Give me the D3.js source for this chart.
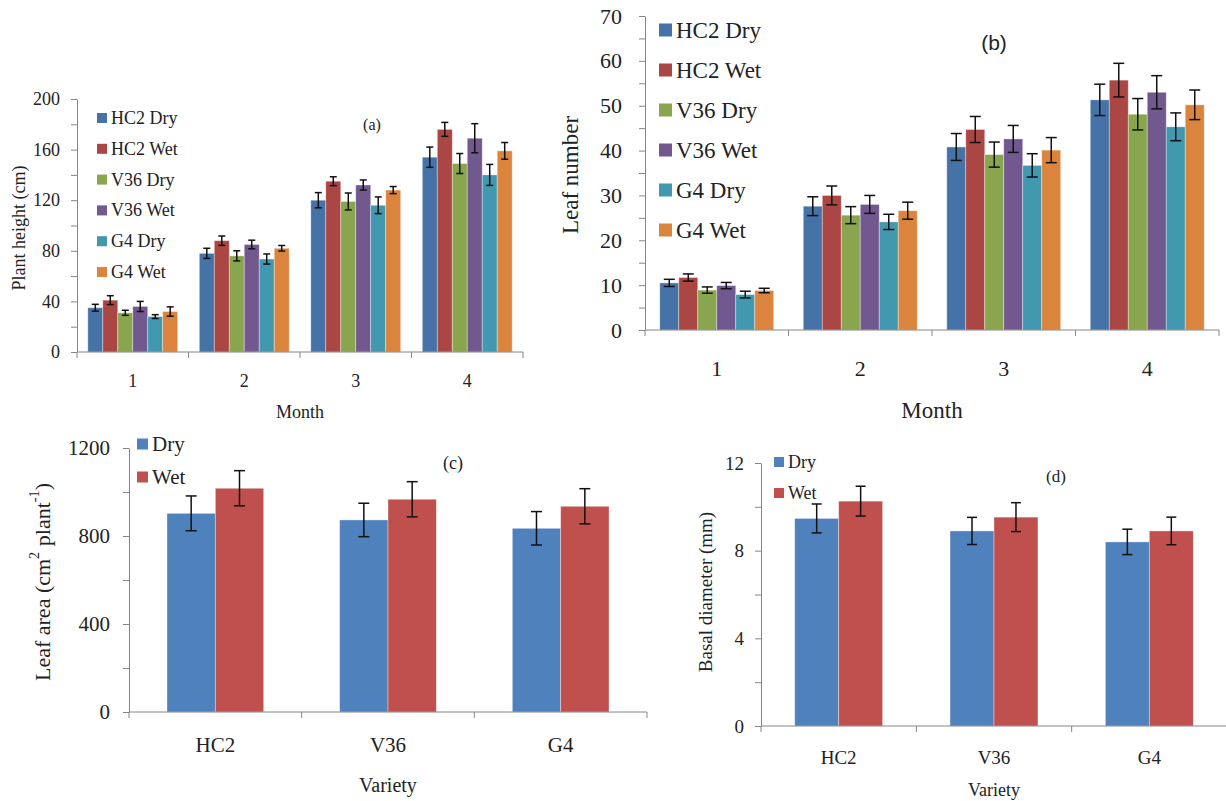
<!DOCTYPE html>
<html>
<head>
<meta charset="utf-8">
<script src="https://cdn.jsdelivr.net/npm/d3@7"></script>
<style>
  body { margin: 0; background: #fff; }
  svg { display: block; font-family: "Liberation Serif", "Times New Roman", serif; }
  .axis path, .axis line { stroke: #868686; }
  .axis text { fill: #222; font-family: "Liberation Serif", serif; }
</style>
</head>
<body>
<svg id="chart" width="1226" height="801"></svg>
<script>
// ---- data ----
var months = ["1", "2", "3", "4"];
var series6 = ["HC2 Dry", "HC2 Wet", "V36 Dry", "V36 Wet", "G4 Dry", "G4 Wet"];
var colors6 = ["#4572a7", "#aa4643", "#89a54e", "#71588f", "#4198af", "#db843d"];

// plant height (cm), rows = month
var heightMean = [[35, 41, 31, 36, 28, 32], [78, 88, 76, 85, 73.5, 82], [120, 135, 119, 132, 116, 128], [154, 176, 149, 169, 140, 159]];
var heightErr = [[2.7, 3.5, 2, 4, 1.5, 3.7], [4, 3.7, 4, 3.4, 4, 2.2], [6, 3.5, 6.7, 4, 6.6, 2.8], [8, 5.5, 7.9, 11.5, 8.3, 6.6]];

// leaf number
var leafMean = [[10.5, 11.7, 8.9, 9.9, 7.9, 8.8], [27.6, 30, 25.6, 28, 24.1, 26.6], [40.8, 44.7, 39.1, 42.6, 36.7, 40.1], [51.3, 55.7, 48.1, 53, 45.3, 50.2]];
var leafErr = [[0.8, 0.8, 0.7, 0.7, 0.75, 0.5], [2.1, 2.1, 1.9, 2, 1.7, 1.9], [3, 2.9, 2.8, 3, 2.6, 2.8], [3.5, 3.75, 3.5, 3.7, 3.1, 3.3]];

var varieties = ["HC2", "V36", "G4"];
var treatments = ["Dry", "Wet"];
var colors2 = ["#4f81bd", "#c0504d"];

// leaf area (cm2 plant-1), rows = variety
var areaMean = [[903, 1017], [873, 967], [835, 935]];
var areaErr = [[79, 80], [76, 80], [76, 80]];

// basal diameter (mm)
var diamMean = [[9.47, 10.26], [8.9, 9.53], [8.4, 8.9]];
var diamErr = [[0.66, 0.68], [0.62, 0.66], [0.58, 0.63]];

var svg = d3.select("#chart");

function drawPanel(p) {
  var g = svg.append("g");
  var x = d3.scaleBand().domain(p.cats).range([p.x0, p.x1]);
  var gap = x.bandwidth() * p.gap;
  var xs = d3.scaleBand().domain(d3.range(p.series.length)).range([gap, x.bandwidth() - gap]);
  var y = d3.scaleLinear().domain([0, p.max]).range([p.y0, p.y1]);

  // bars
  var grp = g.selectAll(".cat")
    .data(p.cats)
    .enter().append("g")
    .attr("transform", function(d) { return "translate(" + x(d) + ",0)"; });

  grp.selectAll("rect")
    .data(function(d, i) { return p.mean[i].map(function(v, j) { return {v: v, e: p.err[i][j], j: j}; }); })
    .enter().append("rect")
    .attr("x", function(d) { return xs(d.j); })
    .attr("width", xs.bandwidth())
    .attr("y", function(d) { return y(d.v); })
    .attr("height", function(d) { return y(0) - y(d.v); })
    .attr("fill", function(d) { return p.colors[d.j]; })
    .attr("stroke", "#ffffff")
    .attr("stroke-opacity", 0.45)
    .attr("stroke-width", 0.8);

  // error bars
  var eb = grp.selectAll(".eb")
    .data(function(d, i) { return p.mean[i].map(function(v, j) { return {v: v, e: p.err[i][j], j: j}; }); })
    .enter().append("g")
    .attr("stroke", "#111")
    .attr("stroke-width", 1.5);
  eb.append("line")
    .attr("x1", function(d) { return xs(d.j) + xs.bandwidth() / 2; })
    .attr("x2", function(d) { return xs(d.j) + xs.bandwidth() / 2; })
    .attr("y1", function(d) { return y(d.v - d.e); })
    .attr("y2", function(d) { return y(d.v + d.e); });
  [-1, 1].forEach(function(s) {
    eb.append("line")
      .attr("x1", function(d) { return xs(d.j) + xs.bandwidth() / 2 - p.cap / 2; })
      .attr("x2", function(d) { return xs(d.j) + xs.bandwidth() / 2 + p.cap / 2; })
      .attr("y1", function(d) { return y(d.v + s * d.e); })
      .attr("y2", function(d) { return y(d.v + s * d.e); });
  });

  // y axis
  var yAxis = d3.axisLeft(y)
    .tickValues(d3.range(0, p.max + p.tick / 2, p.tick))
    .tickSize(6)
    .tickSizeOuter(0)
    .tickPadding(p.pad)
    .tickFormat(function(d) { return Math.round(d / p.label) * p.label === d ? d : ""; });
  var ya = g.append("g")
    .attr("class", "axis")
    .attr("transform", "translate(" + p.x0 + ",0)")
    .call(yAxis);
  ya.selectAll("text").style("font-size", p.font + "px");

  // x axis: base line, ticks at category edges, labels at centres
  var xa = g.append("g").attr("class", "axis");
  xa.append("line")
    .attr("x1", p.x0).attr("x2", p.x1)
    .attr("y1", p.y0).attr("y2", p.y0);
  xa.selectAll(".xt")
    .data(d3.range(p.cats.length + 1))
    .enter().append("line")
    .attr("x1", function(i) { return p.x0 + i * x.bandwidth(); })
    .attr("x2", function(i) { return p.x0 + i * x.bandwidth(); })
    .attr("y1", p.y0).attr("y2", p.y0 + 6);
  xa.selectAll(".xl")
    .data(p.cats)
    .enter().append("text")
    .attr("x", function(d) { return x(d) + x.bandwidth() / 2; })
    .attr("y", p.xLabelY)
    .attr("text-anchor", "middle")
    .attr("dominant-baseline", "central")
    .style("font-size", p.font + "px")
    .text(function(d) { return d; });

  // axis titles
  g.append("text")
    .attr("x", (p.x0 + p.x1) / 2)
    .attr("y", p.xTitleY)
    .attr("text-anchor", "middle")
    .attr("dominant-baseline", "central")
    .attr("fill", "#222")
    .style("font-size", p.titleFont + "px")
    .text(p.xTitle);

  var yt = g.append("text")
    .attr("transform", "translate(" + p.yTitleX + "," + p.yTitleY + ") rotate(-90)")
    .attr("text-anchor", "middle")
    .attr("dominant-baseline", "central")
    .attr("fill", "#222")
    .style("font-size", p.yTitleFont + "px");
  p.yTitle.forEach(function(part) {
    var ts = yt.append("tspan").text(part.t);
    if (part.sup) ts.attr("baseline-shift", "super").style("font-size", (p.yTitleFont * 0.65) + "px");
  });

  // panel letter
  g.append("text")
    .attr("x", p.tagX).attr("y", p.tagY)
    .attr("text-anchor", "middle")
    .attr("dominant-baseline", "central")
    .attr("fill", "#222")
    .style("font-family", p.tagFamily || null)
    .style("font-size", p.tagFont + "px")
    .text(p.tag);

  // legend
  var lg = g.selectAll(".lg")
    .data(p.series)
    .enter().append("g")
    .attr("transform", function(d, i) { return "translate(" + p.legX + "," + (p.legY + i * p.legStep) + ")"; });
  lg.append("rect")
    .attr("x", 0).attr("y", -p.sw / 2)
    .attr("width", p.sw).attr("height", p.sw)
    .attr("fill", function(d, i) { return p.colors[i]; });
  lg.append("text")
    .attr("x", p.sw + 4)
    .attr("dominant-baseline", "central")
    .attr("fill", "#222")
    .style("font-size", p.legFont + "px")
    .text(function(d) { return d; });
}

// (a) plant height
drawPanel({
  cats: months, series: series6, colors: colors6, mean: heightMean, err: heightErr,
  x0: 77, x1: 523, y0: 352, y1: 99, max: 200, tick: 20, label: 40, gap: 0.097,
  pad: 11, font: 18, cap: 7, xLabelY: 381, xTitleY: 412, xTitle: "Month", titleFont: 18,
  yTitle: [{t: "Plant height (cm)"}], yTitleFont: 18, yTitleX: 19, yTitleY: 228,
  tag: "(a)", tagX: 372, tagY: 124, tagFont: 16,
  legX: 97, legY: 118, legStep: 30.8, sw: 10, legFont: 18
});

// (b) leaf number
drawPanel({
  cats: months, series: series6, colors: colors6, mean: leafMean, err: leafErr,
  x0: 645, x1: 1219, y0: 330, y1: 16, max: 70, tick: 5, label: 10, gap: 0.103,
  pad: 17, font: 22, cap: 11, xLabelY: 368, xTitleY: 410, xTitle: "Month", titleFont: 23,
  yTitle: [{t: "Leaf number"}], yTitleFont: 23, yTitleX: 570, yTitleY: 175,
  tag: "(b)", tagX: 994, tagY: 42, tagFont: 21, tagFamily: "'Liberation Sans', sans-serif",
  legX: 659, legY: 30, legStep: 40, sw: 13, legFont: 23
});

// (c) leaf area
drawPanel({
  cats: varieties, series: treatments, colors: colors2, mean: areaMean, err: areaErr,
  x0: 129, x1: 647, y0: 712, y1: 448, max: 1200, tick: 200, label: 400, gap: 0.22,
  pad: 13, font: 21, cap: 11, xLabelY: 745, xTitleY: 785, xTitle: "Variety", titleFont: 20,
  yTitle: [{t: "Leaf area (cm"}, {t: "2", sup: true}, {t: " plant"}, {t: "-1", sup: true}, {t: ")"}],
  yTitleFont: 22, yTitleX: 42, yTitleY: 582,
  tag: "(c)", tagX: 453, tagY: 463, tagFont: 18,
  legX: 137, legY: 444, legStep: 33, sw: 11, legFont: 21
});

// (d) basal diameter
drawPanel({
  cats: varieties, series: treatments, colors: colors2, mean: diamMean, err: diamErr,
  x0: 761, x1: 1227, y0: 726, y1: 463, max: 12, tick: 2, label: 4, gap: 0.217,
  pad: 11, font: 19, cap: 10, xLabelY: 757, xTitleY: 790, xTitle: "Variety", titleFont: 18,
  yTitle: [{t: "Basal diameter (mm)"}], yTitleFont: 19, yTitleX: 705, yTitleY: 592,
  tag: "(d)", tagX: 1056, tagY: 476, tagFont: 17,
  legX: 774, legY: 462, legStep: 31, sw: 10, legFont: 18
});
</script>
</body>
</html>
